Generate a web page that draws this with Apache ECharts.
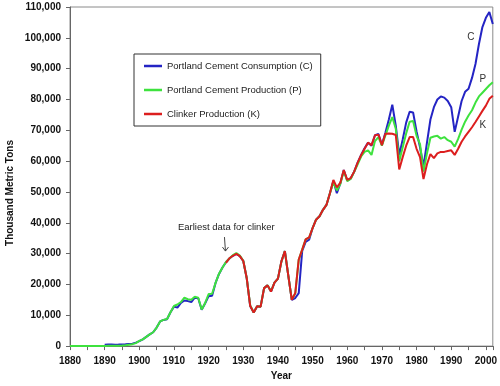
<!DOCTYPE html>
<html><head><meta charset="utf-8">
<script src="https://cdn.jsdelivr.net/npm/echarts@6/dist/echarts.min.js"></script>
<style>html,body{margin:0;padding:0;background:#fff;}#c{width:500px;height:386px;}</style>
</head><body><div id="c"></div>
<script>
const startYear = 1880;
const endYear = 2002;
const yTicks = [0,10000,20000,30000,40000,50000,60000,70000,80000,90000,100000,110000];
const seriesNames = ['Portland Cement Consumption (C)','Portland Cement Production (P)','Clinker Production (K)'];
// Consumption 1880..2002 (no data before 1890)
const consumption = [null,null,null,null,null,null,null,null,null,null,
 450,480,500,450,480,550,600,700,800,1100,
 1600,2200,3000,3800,4500,6000,8000,8500,8700,11000,
 12800,12500,14000,14800,14600,14300,15700,15500,11800,13900,
 16200,16300,20500,23400,25500,27200,28400,29300,29900,29200,
 27600,22000,13000,10900,12900,12800,18800,19700,17700,20600,
 21900,27500,30800,22800,15000,15600,17200,30900,33800,34500,
 38300,41000,42100,44200,45800,49600,53600,49600,52800,57100,
 53700,54400,56600,59500,62000,64200,66000,65000,68400,68800,
 65300,69200,73500,78300,71500,62000,67000,72500,76000,75800,
 69600,64500,58300,66000,73500,77500,80000,81000,80600,79500,
 77500,69500,74500,79500,82500,83500,87000,91500,98000,103500,
 106500,108400,104500];
// Production 1880..2002
const production = [0,0,0,10,10,20,30,40,50,60,
 60,80,90,100,130,170,260,460,630,960,
 1700,2200,3000,3800,4500,6000,8000,8500,8800,11000,
 13000,13500,14300,15700,15200,15000,16000,15700,11900,14000,
 16900,17000,20500,23500,25500,27300,28400,29500,30200,29400,
 27700,22000,13200,10900,12900,12800,18800,19700,17800,20600,
 21900,27400,30800,22800,15100,17100,28000,31300,34600,35200,
 38300,41000,42100,44200,45800,49600,53200,50500,52600,56800,
 53500,54200,56500,59000,61500,63000,63500,62000,66500,67800,
 65000,68300,71500,74300,70500,60000,64500,69000,72800,73000,
 68200,65500,56600,62500,67600,68000,68200,67300,67800,66800,
 66300,64700,67200,70200,72800,74800,76500,79000,81000,82200,
 83400,84600,85600];
// Clinker 1925..2002
const clinkerStart = 1925;
const clinker = [27000,28500,29300,29900,29200,
 27600,22000,13000,10900,12900,12800,18800,19700,17700,20600,
 21900,27500,30800,22800,15000,17200,28100,31300,34600,35300,
 38300,41000,42100,44200,45800,49600,53900,51500,53000,57100,
 53900,54500,56600,59500,61900,64000,66000,65200,68400,68600,
 65200,68900,69000,68900,68500,57300,61300,65000,67800,67800,
 64000,61300,54200,59000,62300,61000,62500,63000,63000,63300,
 63500,62000,64000,66300,68000,69500,71000,72700,74500,76300,
 78000,80200,81200];

function pairs(arr, y0){ const out=[]; arr.forEach((v,i)=>{ if(v!==null) out.push([y0+i, v]); }); return out; }

const FONT = 'Arial, "Liberation Sans", sans-serif';
const chart = echarts.init(document.getElementById('c'), null, {renderer:'canvas'});
const colors = ['#2424c4','#3ee23e','#dc1e1e'];
chart.setOption({
  animation:false,
  backgroundColor:'#fff',
  grid:{left:70, right:2.5, top:7, bottom:37, show:true, borderColor:'#8a8a8a', borderWidth:1},
  legend:{
    orient:'vertical', left:134, top:54,
    backgroundColor:'#fff', borderColor:'#333', borderWidth:1,
    padding:[7,8,7,10], itemGap:14, itemWidth:18, itemHeight:2.5, icon:'rect',
    textStyle:{fontFamily:FONT, fontSize:9.5, color:'#222'},
    data:seriesNames
  },
  xAxis:{
    type:'value', min:startYear, max:endYear, interval:10,
    name:'Year', nameLocation:'middle', nameGap:23,
    nameTextStyle:{fontFamily:FONT, fontWeight:'bold', fontSize:10, color:'#111'},
    axisLine:{lineStyle:{color:'#666', width:1}},
    axisTick:{length:4, lineStyle:{color:'#666'}},
    minorTick:{show:true, splitNumber:2, length:4, lineStyle:{color:'#666'}},
    splitLine:{show:false},
    axisLabel:{margin:10, fontFamily:FONT, fontWeight:'bold', fontSize:10, color:'#111', showMaxLabel:false,
      formatter:v => (v % 10 === 0 ? String(v) : '')}
  },
  yAxis:{
    type:'value', min:yTicks[0], max:yTicks[yTicks.length-1], interval:10000,
    axisLine:{show:true, lineStyle:{color:'#666', width:1}},
    axisTick:{show:true, length:4, lineStyle:{color:'#666'}},
    splitLine:{show:false},
    axisLabel:{margin:9, fontFamily:FONT, fontWeight:'bold', fontSize:10, color:'#111',
      formatter:v => v.toLocaleString('en-US')}
  },
  series:[
    {name:seriesNames[0], type:'line', data:pairs(consumption,startYear), showSymbol:false, color:colors[0], lineStyle:{width:2}, z:2},
    {name:seriesNames[1], type:'line', data:pairs(production,startYear), showSymbol:false, color:colors[1], lineStyle:{width:2}, z:3},
    {name:seriesNames[2], type:'line', data:pairs(clinker,clinkerStart), showSymbol:false, color:colors[2], lineStyle:{width:2}, z:4}
  ]
});

// annotations anchored to data coordinates
const arrowTip = chart.convertToPixel({gridIndex:0}, [1925, 30500]);
const cPos = chart.convertToPixel({gridIndex:0}, [1995.7, 100200]);
const pPos = chart.convertToPixel({gridIndex:0}, [1999.1, 86600]);
const kPos = chart.convertToPixel({gridIndex:0}, [1999.1, 71500]);
chart.setOption({
  graphic:[
    {type:'text', x:10, y:193, rotation:Math.PI/2,
      style:{text:'Thousand Metric Tons', fontFamily:FONT, fontWeight:'bold', fontSize:10, fill:'#111', align:'center', verticalAlign:'middle'}},
    {type:'text', x:arrowTip[0]-48, y:arrowTip[1]-25, style:{text:'Earliest data for clinker', fontFamily:FONT, fontSize:9.5, fill:'#222', align:'left', verticalAlign:'middle'}},
    {type:'polyline', shape:{points:[[arrowTip[0]-1.5, arrowTip[1]-15],[arrowTip[0]-0.5, arrowTip[1]-1]]}, style:{stroke:'#444', lineWidth:1, fill:null}},
    {type:'polyline', shape:{points:[[arrowTip[0]-3.5, arrowTip[1]-5],[arrowTip[0]-0.5, arrowTip[1]-1],[arrowTip[0]+2.5, arrowTip[1]-5]]}, style:{stroke:'#444', lineWidth:1, fill:null}},
    {type:'text', x:cPos[0], y:cPos[1], style:{text:'C', fontFamily:FONT, fontSize:10, fill:'#333', align:'center', verticalAlign:'middle'}},
    {type:'text', x:pPos[0], y:pPos[1], style:{text:'P', fontFamily:FONT, fontSize:10, fill:'#333', align:'center', verticalAlign:'middle'}},
    {type:'text', x:kPos[0], y:kPos[1], style:{text:'K', fontFamily:FONT, fontSize:10, fill:'#333', align:'center', verticalAlign:'middle'}}
  ]
});
</script></body></html>
